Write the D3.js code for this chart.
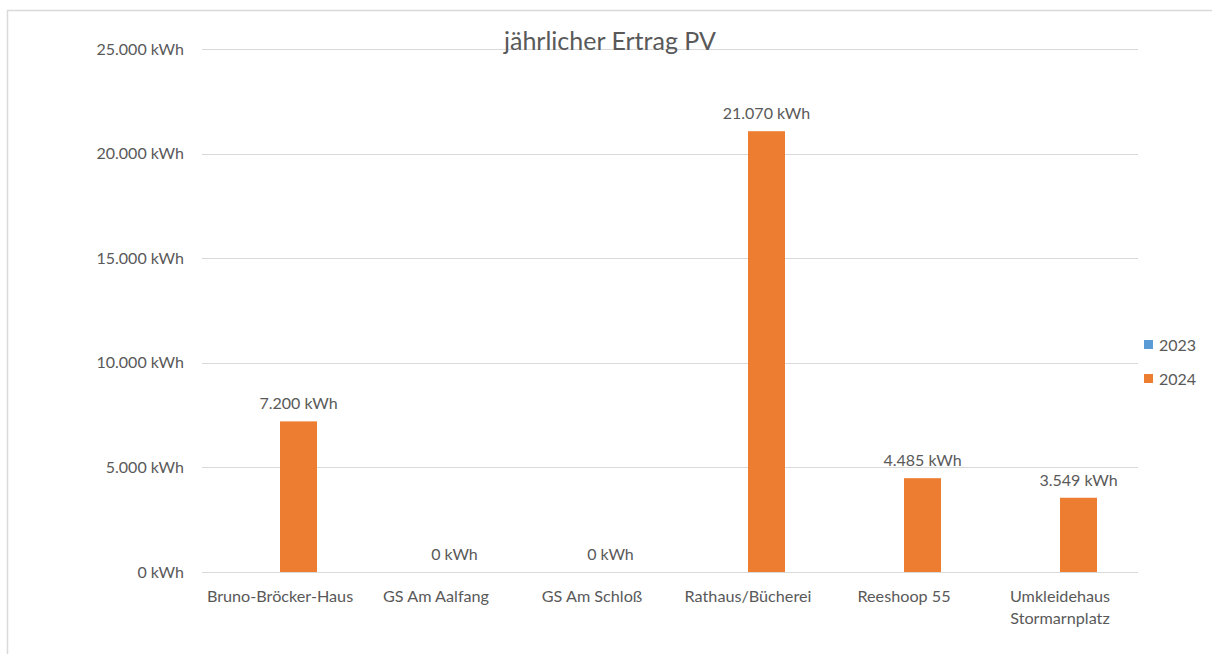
<!DOCTYPE html>
<html>
<head>
<meta charset="utf-8">
<script src="https://cdn.jsdelivr.net/npm/d3@7"></script>
<style>
  body { margin: 0; background: #fff; }
  text { font-family: Lato, "Open Sans", sans-serif; fill: #595959; }
</style>
</head>
<body>
<div id="chart"></div>
<script>
// data
var categories = ["Bruno-Bröcker-Haus", "GS Am Aalfang", "GS Am Schloß", "Rathaus/Bücherei", "Reeshoop 55", "Umkleidehaus Stormarnplatz"];
var seriesNames = ["2023", "2024"];
var values2023 = [0, 0, 0, 0, 0, 0];
var values2024 = [7200, 0, 0, 21070, 4485, 3549];
var yTicks = [0, 5000, 10000, 15000, 20000, 25000];

var colors = {"2023": "#5B9BD5", "2024": "#ED7D31"};

// german number format
var de = d3.formatLocale({decimal: ",", thousands: ".", grouping: [3], currency: ["", " €"]});
var fmt = function(v) { return de.format(",.0f")(v) + " kWh"; };

var W = 1212, H = 654;
var margin = {top: 49, right: 74, bottom: 82, left: 202},
    width = W - margin.left - margin.right,
    height = H - margin.top - margin.bottom;

var root = d3.select("#chart").append("svg")
    .attr("width", W)
    .attr("height", H);

// chart border (runs off the right and bottom edges)
root.append("rect")
    .attr("x", 7.5).attr("y", 10.5)
    .attr("width", W + 20).attr("height", H + 20)
    .attr("fill", "none")
    .attr("stroke", "#d9d9d9")
    .attr("stroke-width", 1.5);

var svg = root.append("g")
    .attr("transform", "translate(" + margin.left + "," + margin.top + ")");

var x = d3.scaleBand()
    .domain(categories)
    .range([0, width]);

var x1 = d3.scaleBand()
    .domain(seriesNames)
    .range([x.bandwidth() / 2 - 37, x.bandwidth() / 2 + 37]);

var y = d3.scaleLinear()
    .domain([0, 25000])
    .range([height, 0]);

// gridlines
svg.append("g")
  .selectAll("line")
  .data(yTicks)
  .enter()
  .append("line")
    .attr("x1", 0).attr("x2", width)
    .attr("y1", function(d) { return Math.round(y(d)) + 0.5; })
    .attr("y2", function(d) { return Math.round(y(d)) + 0.5; })
    .attr("stroke", "#d9d9d9")
    .attr("stroke-width", 1.2);

// y axis labels
var yAxis = svg.append("g")
    .call(d3.axisLeft(y).tickValues(yTicks).tickFormat(fmt).tickSize(0).tickPadding(18));
yAxis.select(".domain").remove();
yAxis.selectAll("text")
    .style("font-size", "16px")
    .attr("fill", "#595959");

// x axis labels
var xAxis = svg.append("g")
    .attr("transform", "translate(0," + height + ")")
    .call(d3.axisBottom(x).tickSize(0).tickPadding(0).tickFormat(""));
xAxis.select(".domain").remove();
xAxis.selectAll(".tick").each(function(d) {
  var t = d3.select(this).append("text")
      .attr("text-anchor", "middle")
      .attr("y", 30)
      .style("font-size", "16.2px");
  var lines = d === "Umkleidehaus Stormarnplatz" ? ["Umkleidehaus", "Stormarnplatz"] : [d];
  lines.forEach(function(l, i) {
    t.append("tspan").attr("x", 0).attr("dy", i === 0 ? 0 : 22).text(l);
  });
});

// bars
var rows = categories.map(function(c, i) {
  return {cat: c, vals: [{s: "2023", v: values2023[i]}, {s: "2024", v: values2024[i]}]};
});

var groups = svg.append("g")
  .selectAll("g")
  .data(rows)
  .enter()
  .append("g")
    .attr("transform", function(d) { return "translate(" + x(d.cat) + ",0)"; });

groups.selectAll("rect")
  .data(function(d) { return d.vals; })
  .enter()
  .append("rect")
    .attr("x", function(d) { return x1(d.s); })
    .attr("width", x1.bandwidth())
    .attr("y", function(d) { return y(d.v); })
    .attr("height", function(d) { return height - y(d.v); })
    .attr("fill", function(d) { return colors[d.s]; });

// value labels (2024 only)
groups.selectAll(".val")
  .data(function(d) { return d.vals.filter(function(v) { return v.s === "2024"; }); })
  .enter()
  .append("text")
    .attr("class", "val")
    .attr("x", function(d) { return x1(d.s) + x1.bandwidth() / 2; })
    .attr("y", function(d) { return y(d.v) - 12; })
    .attr("text-anchor", "middle")
    .style("font-size", "16px")
    .text(function(d) { return fmt(d.v); });

// title
root.append("text")
    .attr("x", 610)
    .attr("y", 50)
    .attr("text-anchor", "middle")
    .style("font-size", "25px")
    .text("jährlicher Ertrag PV");

// legend
var legend = root.append("g")
  .selectAll("g")
  .data(seriesNames)
  .enter()
  .append("g")
    .attr("transform", function(d, i) { return "translate(1144," + (340 + i * 34) + ")"; });
legend.append("rect")
    .attr("width", 9).attr("height", 9)
    .attr("fill", function(d) { return colors[d]; });
legend.append("text")
    .attr("x", 15)
    .attr("y", 5)
    .attr("dy", "0.35em")
    .style("font-size", "16px")
    .text(function(d) { return d; });
</script>
</body>
</html>
